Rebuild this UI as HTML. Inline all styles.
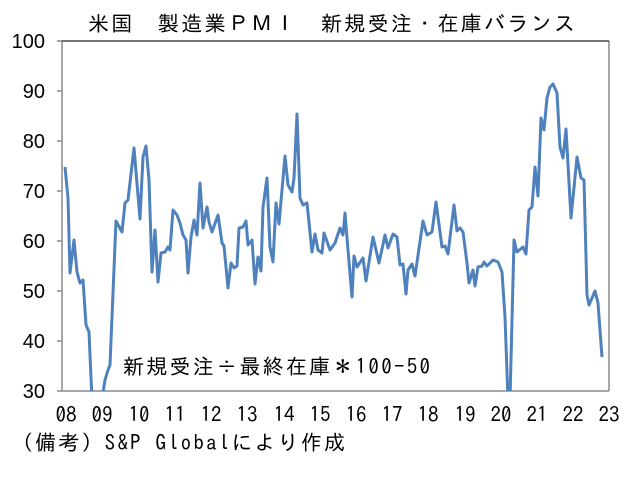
<!DOCTYPE html>
<html><head><meta charset="utf-8"><style>
body{margin:0;background:#fff;}
svg text{font-family:"Liberation Sans","Noto Sans CJK JP",sans-serif;fill:#000;}
svg text.g{font-family:"IPAGothic","Noto Sans CJK JP",monospace;}
</style></head><body>
<svg width="639" height="483" xmlns="http://www.w3.org/2000/svg">
<defs><clipPath id="c"><rect x="62" y="30" width="548" height="361"/></clipPath></defs>
<text class="g" x="88" y="31" font-size="21" textLength="487" lengthAdjust="spacing">米国　製造業ＰＭＩ　新規受注・在庫バランス</text>
<g stroke="#888" stroke-width="1.5" fill="none">
<line x1="62" y1="41" x2="62" y2="391"/>
<line x1="62" y1="391" x2="609" y2="391"/>
<line x1="609" y1="41" x2="609" y2="391"/>
<line x1="57" y1="41" x2="62" y2="41"/><line x1="57" y1="91" x2="62" y2="91"/>
<line x1="57" y1="141" x2="62" y2="141"/><line x1="57" y1="191" x2="62" y2="191"/>
<line x1="57" y1="241" x2="62" y2="241"/><line x1="57" y1="291" x2="62" y2="291"/>
<line x1="57" y1="341" x2="62" y2="341"/><line x1="57" y1="391" x2="62" y2="391"/>
</g>
<line x1="62" y1="41" x2="609" y2="41" stroke="#222" stroke-width="1.3"/>
<g font-size="20" text-anchor="end">
<text x="45" y="48">100</text><text x="45" y="98">90</text><text x="45" y="148">80</text>
<text x="45" y="198">70</text><text x="45" y="248">60</text><text x="45" y="298">50</text>
<text x="45" y="348">40</text><text x="45" y="398">30</text>
</g>
<g font-size="21" text-anchor="middle">
<text class="g" x="66" y="422">08</text><text class="g" x="102" y="422">09</text><text class="g" x="139" y="422">10</text>
<text class="g" x="175" y="422">11</text><text class="g" x="211" y="422">12</text><text class="g" x="247" y="422">13</text>
<text class="g" x="284" y="422">14</text><text class="g" x="320" y="422">15</text><text class="g" x="356" y="422">16</text>
<text class="g" x="392" y="422">17</text><text class="g" x="428" y="422">18</text><text class="g" x="465" y="422">19</text>
<text class="g" x="501" y="422">20</text><text class="g" x="537" y="422">21</text><text class="g" x="573" y="422">22</text>
<text class="g" x="609" y="422">23</text>
</g>
<text class="g" x="12" y="450" font-size="21" textLength="333" lengthAdjust="spacing">（備考）S&amp;P Globalにより作成</text>
<text class="g" x="123" y="374" font-size="21" textLength="307" lengthAdjust="spacing">新規受注÷最終在庫＊100-50</text>
<polyline clip-path="url(#c)" fill="none" stroke="#4f81bd" stroke-width="3" stroke-linejoin="round" points="
65,167 68,198 70,273 74,240 77,272 80,283 83,280 86,325 89,332 92,400 100,400 103,393 105,380 108,370 110,365 116,221 122,232 125,203 128,200 134,148 140,219 143,157 146,146 149,180 152,272 155,230 158,282 161,253 165,252 168,247 170,250 173,210 177,215 180,223 183,235 186,240 188,273 191,237 194,220 197,235 200,183 203,228 207,207 209,222 212,232 218,215 222,243 224,246 228,288 231,263 234,268 237,266 239,228 243,227 246,221 248,245 252,240 255,284 258,257 261,271 263,207 267,178 270,247 273,262 276,203 279,224 285,156 288,185 292,192 294,178 297,114 300,198 303,205 307,203 312,252 315,234 318,250 322,253 324,233 330,250 335,243 340,228 343,235 345,213 347,238 352,297 354,256 357,267 363,258 366,281 373,237 379,263 385,235 388,248 393,234 397,237 400,265 403,264 406,294 408,270 412,264 415,276 423,221 427,235 432,232 436,202 442,247 445,246 448,254 454,205 457,231 460,228 463,232 467,263 469,283 473,270 475,286 478,267 482,266 484,262 487,266 493,260 498,262 502,272 505,317 508,400 510,400 514,240 517,252 523,247 526,254 529,210 532,207 535,167 538,196 541,118 544,130 547,98 550,87 553,84 557,93 560,147 563,158 566,129 571,218 577,157 581,178 584,180 587,295 589,305 595,291 598,303 602,357"/>
</svg>
</body></html>
